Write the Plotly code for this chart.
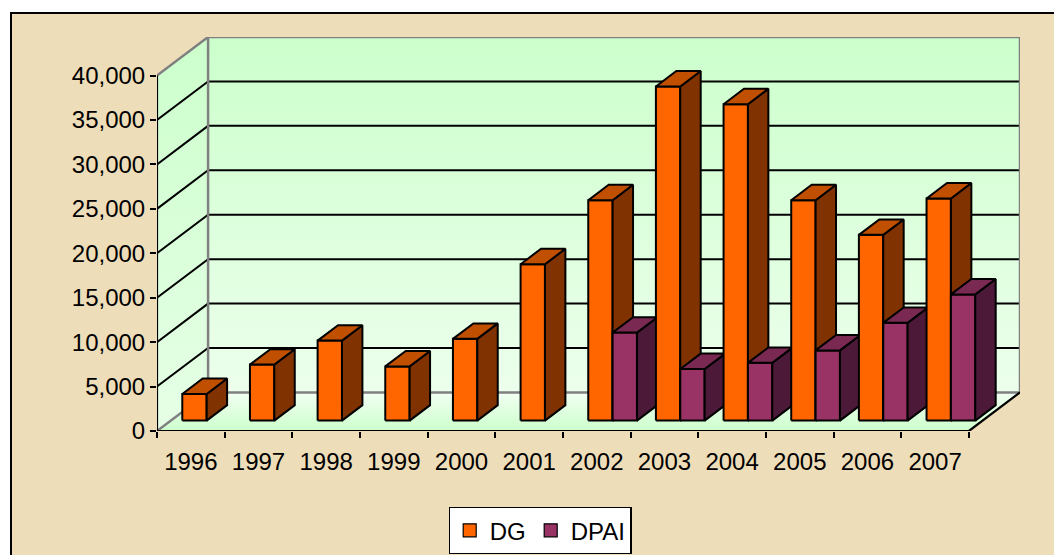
import plotly.graph_objects as go

# ---- data ----
years = ['1996', '1997', '1998', '1999', '2000', '2001',
         '2002', '2003', '2004', '2005', '2006', '2007']
dg = [3000, 6300, 9000, 6100, 9200, 17600, 24800, 37600, 35600, 24800, 20900, 25000]
dpai = [None, None, None, None, None, None, 9900, 5800, 6500, 7900, 11000, 14200]
y_ticks = [0, 5000, 10000, 15000, 20000, 25000, 30000, 35000, 40000]

series = [
    dict(name='DG', values=dg, front='#FF6600', side='#803300', top='#C05000'),
    dict(name='DPAI', values=dpai, front='#993366', side='#4C1A38', top='#7A2952'),
]

# ---- oblique projection parameters ----
DX = 0.755      # depth offset in category units
DY = 4340.0     # depth offset in value units
YMAX = 40000
N = len(years)
D0, D1 = 0.27, 0.67      # bar depth span
BAR_START, BAR_W = 0.17, 0.36


def P(u, v, d):
    return u + d * DX, v + d * DY


def poly(pts):
    xs, ys = zip(*[P(*p) for p in pts])
    return list(xs) + [xs[0]], list(ys) + [ys[0]]


fig = go.Figure()
FONT = 'Arial, Liberation Sans, sans-serif'


def add_face(pts, fill, line_color='black', lw=2.0, gradient=None):
    xs, ys = poly(pts)
    kw = dict(fillcolor=fill)
    if gradient is not None:
        kw = dict(fillgradient=gradient)
    fig.add_trace(go.Scatter(x=xs, y=ys, mode='lines', fill='toself',
                             line=dict(color=line_color, width=lw),
                             hoverinfo='skip', showlegend=False, **kw))


def add_line(pts, color, lw):
    xs, ys = zip(*[P(*p) for p in pts])
    fig.add_trace(go.Scatter(x=list(xs), y=list(ys), mode='lines',
                             line=dict(color=color, width=lw),
                             hoverinfo='skip', showlegend=False))


# ---- walls ----
add_face([(0, 0, 0), (N, 0, 0), (N, 0, 1), (0, 0, 1)], None, line_color='rgba(0,0,0,0)', lw=0,
         gradient=dict(type='vertical', colorscale=[[0, '#CCFFCC'], [1, '#F2FFF2']]))
add_face([(0, 0, 1), (N, 0, 1), (N, YMAX, 1), (0, YMAX, 1)], None, line_color='rgba(0,0,0,0)', lw=0,
         gradient=dict(type='vertical', colorscale=[[0, '#ECFFEC'], [1, '#CCFFCC']]))
add_face([(0, 0, 0), (0, 0, 1), (0, YMAX, 1), (0, YMAX, 0)], None, line_color='rgba(0,0,0,0)', lw=0,
         gradient=dict(type='vertical', colorscale=[[0, '#E6FFE6'], [1, '#CCFFCC']]))

for v in y_ticks[1:-1]:
    add_line([(0, v, 0), (0, v, 1), (N, v, 1)], 'black', 2)
add_line([(0, 0, 0), (0, 0, 1), (N, 0, 1), (N, YMAX, 1), (0, YMAX, 1), (0, 0, 1)], '#808080', 2.5)
add_line([(0, YMAX, 0), (0, YMAX, 1)], '#808080', 2.5)
add_line([(0, YMAX, 0), (0, 0, 0), (N, 0, 0), (N, 0, 1)], 'black', 2.2)

# ---- bars ----
for i in range(N):
    for k, s in enumerate(series):
        v = s['values'][i]
        if v is None:
            continue
        u0 = i + BAR_START + k * BAR_W
        u1 = u0 + BAR_W
        add_face([(u0, 0, D0), (u1, 0, D0), (u1, v, D0), (u0, v, D0)], s['front'])
        add_face([(u1, 0, D0), (u1, 0, D1), (u1, v, D1), (u1, v, D0)], s['side'])
        add_face([(u0, v, D0), (u1, v, D0), (u1, v, D1), (u0, v, D1)], s['top'])

for s in series:
    fig.add_trace(go.Scatter(x=[None], y=[None], mode='markers', name=s['name'],
                             marker=dict(symbol='square', size=13, color=s['front'],
                                         line=dict(color='black', width=1.2))))

L, R, T, B = 157, 34, 37, 124
W, H = 1054, 555
pw, ph = W - L - R, H - T - B


def px_to_paper_x(px):
    return (px - L) / pw


def px_to_paper_y(py):
    return (H - B - py) / ph


fig.update_layout(
    width=W, height=H,
    margin=dict(l=L, r=R, t=T, b=B, pad=0, autoexpand=False),
    paper_bgcolor='white',
    plot_bgcolor='rgba(0,0,0,0)',
    font=dict(family=FONT, size=24, color='black'),
    showlegend=True,
    legend=dict(orientation='h', x=px_to_paper_x(540), xanchor='center',
                y=px_to_paper_y(507), yanchor='top',
                bgcolor='white', bordercolor='black', borderwidth=1.2,
                font=dict(family=FONT, size=24, color='black'),
                itemwidth=30, tracegroupgap=0),
    xaxis=dict(range=[0, N + DX], showgrid=False, zeroline=False, showline=False,
               tickmode='array', tickvals=[i + 0.5 for i in range(N)], ticktext=years,
               ticks='', ticklabelstandoff=14,
               tickfont=dict(family=FONT, size=24, color='black'),
               minor=dict(tickmode='array', tickvals=list(range(N + 1)), ticks='outside',
                          ticklen=6, tickwidth=2, tickcolor='black', showgrid=False),
               fixedrange=True, automargin=False),
    yaxis=dict(range=[0, YMAX + DY], showgrid=False, zeroline=False, showline=False,
               tickmode='array', tickvals=y_ticks, tickformat=',d',
               ticks='outside', ticklen=6, tickwidth=2, tickcolor='black',
               tickfont=dict(family=FONT, size=24, color='black'),
               fixedrange=True, automargin=False),
    shapes=[dict(type='rect', xref='paper', yref='paper', layer='below',
                 x0=px_to_paper_x(11), x1=px_to_paper_x(1070),
                 y0=px_to_paper_y(570), y1=px_to_paper_y(13),
                 fillcolor='#EEDDB9', line=dict(color='black', width=2))],
)

fig.write_html('out.html', config={'displayModeBar': False},
               post_script="document.body.style.margin='0px';document.body.style.overflow='hidden';")
